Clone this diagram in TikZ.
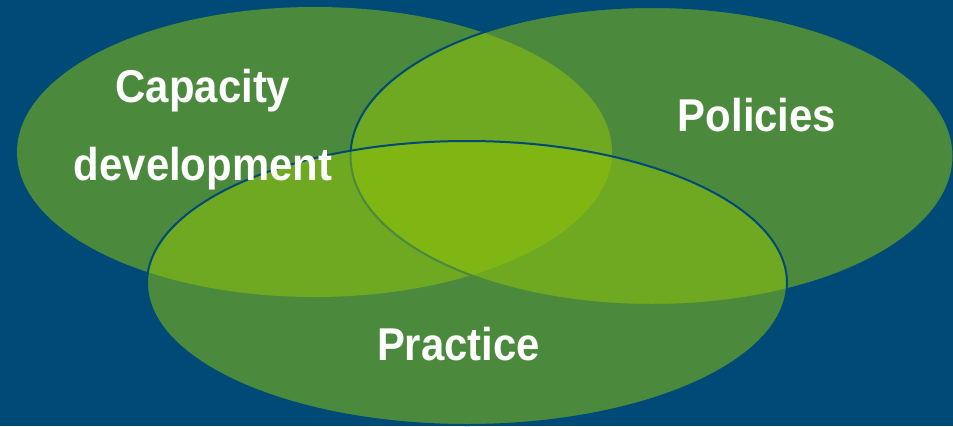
\documentclass[tikz,border=0pt]{standalone}
\usepackage{fontspec}
\setmainfont{Liberation Sans}[FakeStretch=0.91]
\usetikzlibrary{shapes.geometric}
\definecolor{bgblue}{RGB}{0,74,119}
\definecolor{leaf}{RGB}{143,195,9}
\tikzset{
  venn/.style={ellipse, inner sep=0pt, outer sep=0pt, fill=leaf, fill opacity=0.53},
  vennline/.style={venn, draw=bgblue, draw opacity=1, line width=2pt},
  lbl/.style={anchor=base, text=white, inner sep=0pt, font=\bfseries\fontsize{46}{50}\selectfont}
}
\begin{document}
\begin{tikzpicture}[x=1pt,y=-1pt]
  \fill[bgblue] (0,0) rectangle (953,426);
  \useasboundingbox (0,0) rectangle (953,426);
  \node[venn, minimum width=595pt, minimum height=290pt] (capacity) at (314.5,152) {};
  \node[vennline, minimum width=603pt, minimum height=298pt] (policies) at (652,156) {};
  \node[vennline, minimum width=640pt, minimum height=284pt] (practice) at (467,283) {};
  \node[lbl] (cap1) at (203,102) {Capacity};
  \node[lbl] (cap2) at (203,180) {development};
  \node[lbl] (pol) at (757,131) {Policies};
  \node[lbl] (pra) at (458.5,360) {Practice};
\end{tikzpicture}
\end{document}
